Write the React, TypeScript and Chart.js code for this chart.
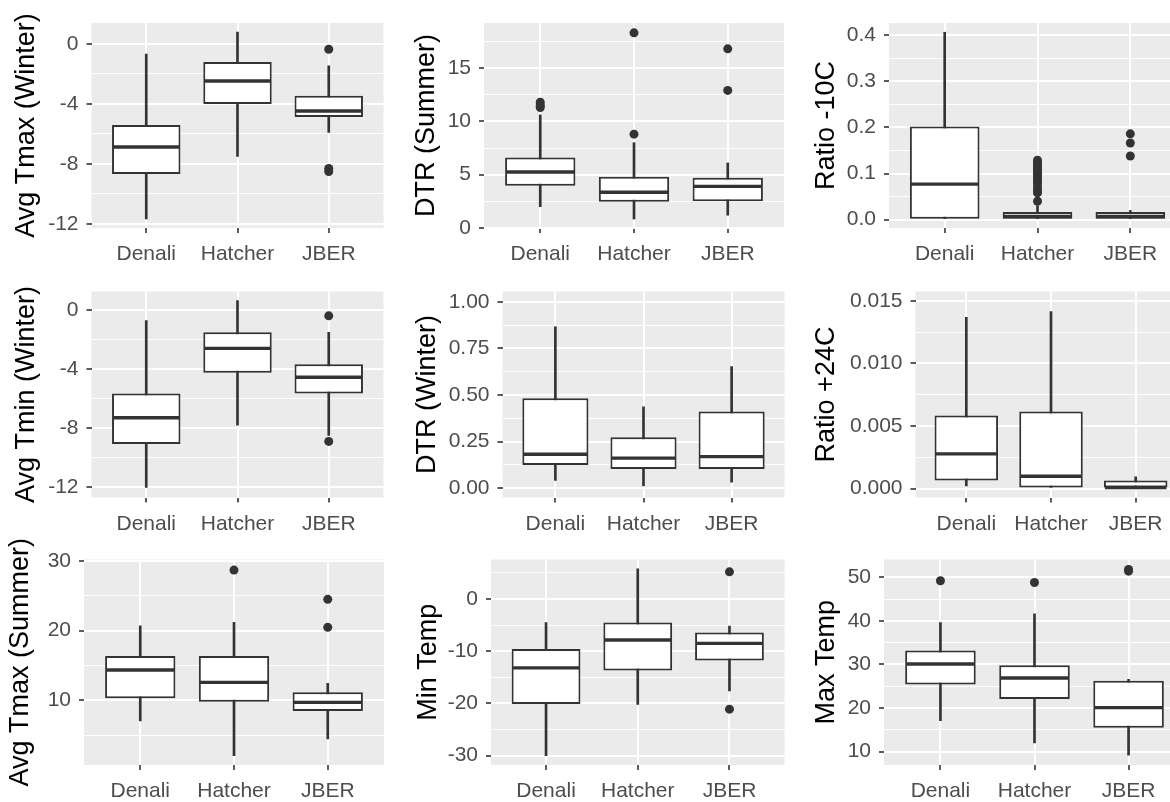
import React, { useEffect, useRef } from 'react';
import { Chart, registerables } from 'chart.js';

Chart.register(...registerables);

const FONT = '"Liberation Sans", Arial, Helvetica, sans-serif';

// ---------- DATA ----------
const categories = ['Denali', 'Hatcher', 'JBER'];

// Box statistics per category: [lower whisker, Q1, median, Q3, upper whisker]
const avgTmaxWinterStats = [
  [-11.67, -8.67, -6.87, -5.4, -0.67],
  [-7.5, -4.0, -2.47, -1.2, 0.8],
  [-5.9, -4.87, -4.47, -3.45, -1.45],
];
const avgTmaxWinterOutliers = [[], [], [-0.35, -8.3, -8.5]];
const avgTmaxWinterTicks = [-12, -8, -4, 0];
const avgTmaxWinterTickLabels = ['-12', '-8', '-4', '0'];

const dtrSummerStats = [
  [2.0, 3.95, 5.25, 6.6, 10.6],
  [0.84, 2.45, 3.35, 4.8, 8.0],
  [1.2, 2.5, 3.9, 4.7, 6.1],
];
const dtrSummerOutliers = [[11.3, 11.5, 11.8], [8.8, 18.3], [12.9, 16.8]];
const dtrSummerTicks = [0, 5, 10, 15];
const dtrSummerTickLabels = ['0', '5', '10', '15'];

const ratioMinus10Stats = [
  [0, 0, 0.077, 0.2018, 0.406],
  [0, 0, 0.007, 0.0166, 0.03],
  [0, 0, 0.007, 0.0166, 0.02],
];
const ratioMinus10Outliers = [
  [],
  [0.04, 0.058, 0.064, 0.07, 0.078, 0.085, 0.09, 0.096, 0.1, 0.105, 0.11, 0.115, 0.12, 0.125, 0.129],
  [0.138, 0.166, 0.186],
];
const ratioMinus10Ticks = [0, 0.1, 0.2, 0.3, 0.4];
const ratioMinus10TickLabels = ['0.0', '0.1', '0.2', '0.3', '0.4'];

const avgTminWinterStats = [
  [-12.02, -9.08, -7.3, -5.65, -0.72],
  [-7.8, -4.25, -2.6, -1.51, 0.63],
  [-8.5, -5.65, -4.56, -3.68, -1.51],
];
const avgTminWinterOutliers = [[], [], [-0.4, -8.9]];
const avgTminWinterTicks = [-12, -8, -4, 0];
const avgTminWinterTickLabels = ['-12', '-8', '-4', '0'];

const dtrWinterStats = [
  [0.041, 0.125, 0.182, 0.482, 0.866],
  [0.012, 0.103, 0.161, 0.273, 0.437],
  [0.032, 0.103, 0.169, 0.411, 0.652],
];
const dtrWinterOutliers = [[], [], []];
const dtrWinterTicks = [0, 0.25, 0.5, 0.75, 1];
const dtrWinterTickLabels = ['0.00', '0.25', '0.50', '0.75', '1.00'];

const ratioPlus24Stats = [
  [0.0002, 0.00064, 0.00277, 0.00585, 0.0137],
  [0, 0, 0.00098, 0.00617, 0.01415],
  [0, 0, 0.00008, 0.00064, 0.00093],
];
const ratioPlus24Outliers = [[], [], []];
const ratioPlus24Ticks = [0, 0.005, 0.01, 0.015];
const ratioPlus24TickLabels = ['0.000', '0.005', '0.010', '0.015'];

const avgTmaxSummerStats = [
  [7.03, 10.29, 14.35, 16.36, 20.7],
  [2.05, 9.8, 12.58, 16.36, 21.2],
  [4.45, 8.46, 9.7, 11.15, 12.44],
];
const avgTmaxSummerOutliers = [[], [28.7], [20.48, 24.5]];
const avgTmaxSummerTicks = [10, 20, 30];
const avgTmaxSummerTickLabels = ['10', '20', '30'];

const minTempStats = [
  [-30, -20.1, -13.2, -9.6, -4.5],
  [-20.2, -13.7, -7.85, -4.5, 5.75],
  [-17.6, -11.8, -8.5, -6.4, -5.2],
];
const minTempOutliers = [[], [], [5.2, -21.1]];
const minTempTicks = [-30, -20, -10, 0];
const minTempTickLabels = ['-30', '-20', '-10', '0'];

const maxTempStats = [
  [17.1, 25.4, 30.1, 33.2, 39.6],
  [12.0, 22.1, 26.9, 29.8, 41.6],
  [9.2, 15.5, 20.1, 26.3, 26.6],
];
const maxTempOutliers = [[49.2], [48.8], [51.4, 51.8]];
const maxTempTicks = [10, 20, 30, 40, 50];
const maxTempTickLabels = ['10', '20', '30', '40', '50'];

// ---------- LAYOUT (positions / sizes only) ----------
type Layout = {
  cx: number; cy: number; cw: number; ch: number;
  pl: number; pt: number; pr: number; pb: number;
  tpad: number; yMin: number; yMax: number;
};

const layouts: Layout[] = [
  { cx: 0, cy: 0, cw: 392, ch: 268, pl: 91.5, pt: 23, pr: 383.5, pb: 228, tpad: 13, yMin: -12.27, yMax: 1.4 },
  { cx: 392, cy: 0, cw: 398, ch: 268, pl: 484, pt: 23, pr: 784, pb: 228, tpad: 21.5, yMin: 0, yMax: 19.22 },
  { cx: 790, cy: 0, cw: 410, ch: 268, pl: 889, pt: 23, pr: 1186, pb: 228, tpad: 23.5, yMin: -0.018, yMax: 0.426 },
  { cx: 0, cy: 268, cw: 392, ch: 268, pl: 91.5, pt: 291.5, pr: 383.5, pb: 497.5, tpad: 13.5, yMin: -12.7, yMax: 1.25 },
  { cx: 392, cy: 268, cw: 398, ch: 268, pl: 502.5, pt: 291.5, pr: 784.5, pb: 497.5, tpad: 22, yMin: -0.05, yMax: 1.055 },
  { cx: 790, cy: 268, cw: 410, ch: 268, pl: 915.5, pt: 291.5, pr: 1186.5, pb: 497.5, tpad: 23.5, yMin: -0.00072, yMax: 0.01576 },
  { cx: 0, cy: 536, cw: 392, ch: 266, pl: 84, pt: 559.5, pr: 384, pb: 765, tpad: 7.2, yMin: 0.71, yMax: 30.22 },
  { cx: 392, cy: 536, cw: 398, ch: 266, pl: 491, pt: 559.5, pr: 784.5, pb: 765, tpad: 23, yMin: -31.8, yMax: 7.56 },
  { cx: 790, cy: 536, cw: 410, ch: 266, pl: 884, pt: 559.5, pr: 1185, pb: 765, tpad: 23, yMin: 6.95, yMax: 54.08 },
];

type PanelData = {
  title: string;
  stats: number[][];
  outliers: number[][];
  ticks: number[];
  tickLabels: string[];
};

const panelData: PanelData[] = [
  { title: 'Avg Tmax (Winter)', stats: avgTmaxWinterStats, outliers: avgTmaxWinterOutliers, ticks: avgTmaxWinterTicks, tickLabels: avgTmaxWinterTickLabels },
  { title: 'DTR (Summer)', stats: dtrSummerStats, outliers: dtrSummerOutliers, ticks: dtrSummerTicks, tickLabels: dtrSummerTickLabels },
  { title: 'Ratio -10C', stats: ratioMinus10Stats, outliers: ratioMinus10Outliers, ticks: ratioMinus10Ticks, tickLabels: ratioMinus10TickLabels },
  { title: 'Avg Tmin (Winter)', stats: avgTminWinterStats, outliers: avgTminWinterOutliers, ticks: avgTminWinterTicks, tickLabels: avgTminWinterTickLabels },
  { title: 'DTR (Winter)', stats: dtrWinterStats, outliers: dtrWinterOutliers, ticks: dtrWinterTicks, tickLabels: dtrWinterTickLabels },
  { title: 'Ratio +24C', stats: ratioPlus24Stats, outliers: ratioPlus24Outliers, ticks: ratioPlus24Ticks, tickLabels: ratioPlus24TickLabels },
  { title: 'Avg Tmax (Summer)', stats: avgTmaxSummerStats, outliers: avgTmaxSummerOutliers, ticks: avgTmaxSummerTicks, tickLabels: avgTmaxSummerTickLabels },
  { title: 'Min Temp', stats: minTempStats, outliers: minTempOutliers, ticks: minTempTicks, tickLabels: minTempTickLabels },
  { title: 'Max Temp', stats: maxTempStats, outliers: maxTempOutliers, ticks: maxTempTicks, tickLabels: maxTempTickLabels },
];

// ---------- STYLE ----------
const PANEL_BG = '#EBEBEB';
const INK = '#333333';
const TICK_TEXT = '#4D4D4D';
const TICK_FONT = 21;
const TITLE_FONT = 27;
const BOX_WIDTH = 0.75;

const panelBg = {
  id: 'panelBg',
  beforeDraw(chart: any) {
    const { ctx, chartArea: a } = chart;
    ctx.save();
    ctx.fillStyle = PANEL_BG;
    ctx.fillRect(a.left, a.top, a.right - a.left, a.bottom - a.top);
    ctx.restore();
  },
};

function minorBreaks(major: number[], lo: number, hi: number) {
  const step = major[1] - major[0];
  const out: number[] = [];
  for (let i = -1; i < major.length; i++) {
    const v = major[0] + step * (i + 0.5);
    if (v > lo && v < hi) out.push(v);
  }
  return out;
}

function buildChart(canvas: HTMLCanvasElement, d: PanelData, L: Layout) {
  const xs = categories.map((_, i) => i + 1);
  const minors = minorBreaks(d.ticks, L.yMin, L.yMax);
  const yTickValues = [...d.ticks, ...minors].sort((a, b) => a - b);
  const majorIndex = (v: number) =>
    d.ticks.findIndex((t) => Math.abs(t - v) < Math.abs(d.ticks[1] - d.ticks[0]) * 1e-6);

  const whiskers = d.stats.map((s, i) => ({ x: xs[i], y: [s[0], s[4]] }));
  const boxes = d.stats.map((s, i) => ({ x: xs[i], y: [s[1], s[3]] }));
  const medians = d.stats.map((s, i) => ({ x: xs[i], y: s[2] }));
  const outPts: { x: number; y: number }[] = [];
  d.outliers.forEach((arr, i) => arr.forEach((v) => outPts.push({ x: xs[i], y: v })));

  const halfBox = (chart: any) => {
    const sx = chart.scales.x;
    return Math.abs(sx.getPixelForValue(1 + BOX_WIDTH / 2) - sx.getPixelForValue(1)) - 1;
  };

  return new Chart(canvas, {
    type: 'bar',
    data: {
      datasets: [
        {
          type: 'scatter',
          data: outPts,
          pointRadius: 4.5,
          pointHoverRadius: 4.5,
          backgroundColor: INK,
          borderWidth: 0,
          order: 1,
        } as any,
        {
          type: 'scatter',
          data: medians,
          pointStyle: 'line',
          pointRadius: (ctx: any) => halfBox(ctx.chart),
          borderColor: INK,
          borderWidth: 3.4,
          order: 2,
        } as any,
        {
          type: 'bar',
          data: boxes,
          backgroundColor: '#FFFFFF',
          borderColor: INK,
          borderWidth: 2,
          borderSkipped: false,
          grouped: false,
          barPercentage: BOX_WIDTH,
          categoryPercentage: 1,
          order: 3,
        } as any,
        {
          type: 'bar',
          data: whiskers,
          backgroundColor: INK,
          borderWidth: 0,
          barThickness: 2,
          grouped: false,
          order: 4,
        } as any,
      ],
    },
    options: {
      animation: false,
      responsive: false,
      events: [],
      layout: {
        padding: {
          left: 0,
          top: L.pt - L.cy,
          right: L.cx + L.cw - L.pr,
          bottom: 0,
        },
      },
      plugins: {
        legend: { display: false },
        tooltip: { enabled: false },
        title: { display: false },
      },
      scales: {
        x: {
          type: 'linear',
          min: 0.4,
          max: 3.6,
          offset: false,
          afterBuildTicks: (s: any) => {
            s.ticks = xs.map((v) => ({ value: v }));
          },
          afterFit: (s: any) => {
            s.height = L.cy + L.ch - L.pb;
          },
          ticks: {
            autoSkip: false,
            maxRotation: 0,
            minRotation: 0,
            padding: 9,
            color: TICK_TEXT,
            font: { family: FONT, size: TICK_FONT },
            callback: (v: any) => categories[Math.round(Number(v)) - 1] ?? '',
          },
          grid: {
            offset: false,
            color: '#FFFFFF',
            lineWidth: 2,
            drawTicks: true,
            tickLength: 5,
            tickColor: INK,
            tickWidth: 1.6,
          },
          border: { display: false },
        },
        y: {
          type: 'linear',
          min: L.yMin,
          max: L.yMax,
          afterBuildTicks: (s: any) => {
            s.ticks = yTickValues.map((v) => ({ value: v }));
          },
          afterFit: (s: any) => {
            s.width = L.pl - L.cx;
          },
          ticks: {
            autoSkip: false,
            padding: 8,
            color: TICK_TEXT,
            font: { family: FONT, size: TICK_FONT },
            callback: (v: any) => {
              const k = majorIndex(Number(v));
              return k >= 0 ? d.tickLabels[k] : '';
            },
          },
          grid: {
            color: '#FFFFFF',
            lineWidth: (ctx: any) => (majorIndex(ctx.tick.value) >= 0 ? 2 : 1),
            drawTicks: true,
            tickLength: 5,
            tickColor: (ctx: any) => (majorIndex(ctx.tick.value) >= 0 ? INK : 'rgba(0,0,0,0)'),
            tickWidth: 1.6,
          },
          border: { display: false },
          title: {
            display: true,
            text: d.title,
            color: '#000000',
            font: { family: FONT, size: TITLE_FONT, lineHeight: 1 },
            padding: { top: L.tpad, bottom: 0 },
          },
        },
      },
    } as any,
    plugins: [panelBg],
  });
}

function Panel({ index }: { index: number }) {
  const ref = useRef<HTMLCanvasElement>(null);
  const L = layouts[index];
  useEffect(() => {
    if (!ref.current) return;
    const chart = buildChart(ref.current, panelData[index], L);
    return () => chart.destroy();
  }, [index]);
  return (
    <canvas
      ref={ref}
      width={L.cw}
      height={L.ch}
      style={{ position: 'absolute', left: L.cx, top: L.cy, width: L.cw, height: L.ch }}
    />
  );
}

export default function App() {
  return (
    <div
      style={{
        position: 'fixed',
        left: 0,
        top: 0,
        width: 1170,
        height: 802,
        overflow: 'hidden',
        background: '#FFFFFF',
      }}
    >
      {panelData.map((_, i) => (
        <Panel key={i} index={i} />
      ))}
    </div>
  );
}
